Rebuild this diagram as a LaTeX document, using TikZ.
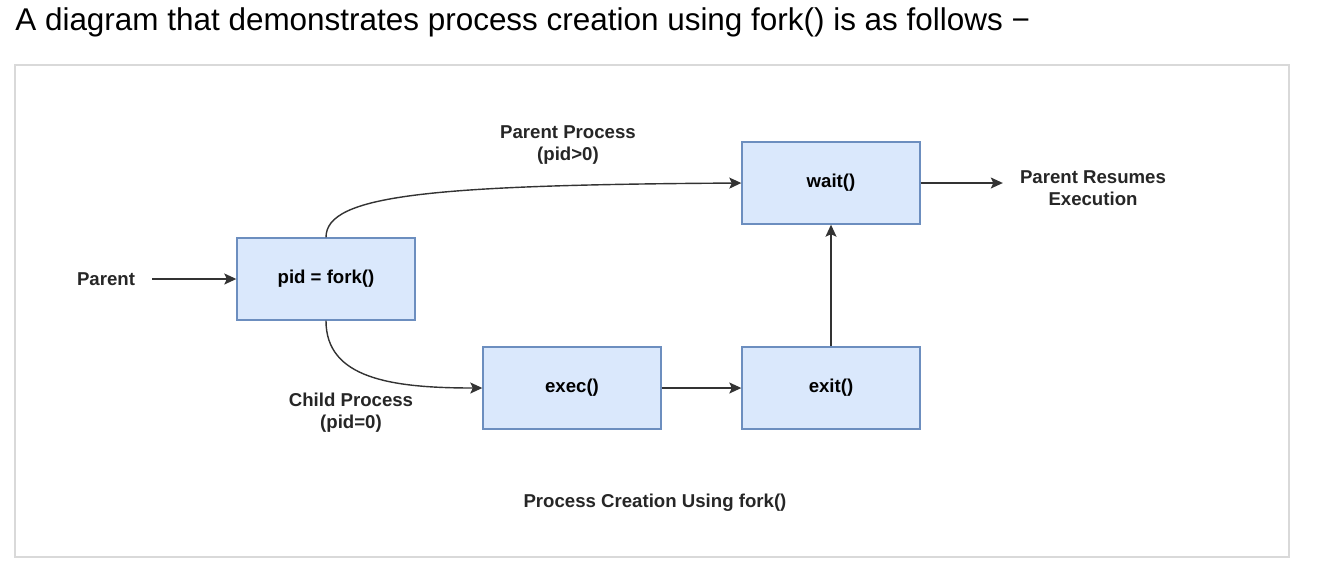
\documentclass[tikz,border=0pt]{standalone}
\usepackage{fontspec}
\setmainfont{Liberation Sans}
\usetikzlibrary{arrows.meta,positioning}
\definecolor{boxfill}{HTML}{DAE8FC}
\definecolor{boxline}{HTML}{6C8EBF}
\definecolor{framegray}{HTML}{D9D9D9}
\newcommand{\lblfont}{\fontsize{10.6}{12.5}\selectfont\bfseries}
\tikzset{procbox/.style={draw=boxline,fill=boxfill,line width=0.8pt,minimum width=3.56cm,minimum height=1.64cm,inner sep=0pt,font=\lblfont},
  lbl/.style={align=center,font=\lblfont,text=black!85},
  arr/.style={-{Stealth[length=2.4mm,width=2.2mm,inset=0.5mm]},line width=0.8pt,draw=black!80}}

\begin{document}
\begin{tikzpicture}[x=0.02cm,y=-0.02cm]
\useasboundingbox (0,0) rectangle (1336,566);
\node[anchor=base west,font=\fontsize{17.9}{21}\selectfont,inner sep=0pt] (title) at (15,30) {A diagram that demonstrates process creation using fork() is as follows −};
\draw[framegray,line width=1.1pt] (15,65) rectangle (1289,557);
% boxes
\node[procbox] (fork) at (326,279) {pid = fork()};
\node[procbox] (wait) at (831,183) {wait()};
\node[procbox] (exec) at (572,388) {exec()};
\node[procbox] (exit) at (831,388) {exit()};
% labels
\node[lbl] (parent) at (106,279) {Parent};
\node[lbl] (resume) at (1093,188) {Parent Resumes\\Execution};
\node[lbl] (ptag) at (568,145) {Parent Process\\(pid>0)};
\node[lbl] (ctag) at (351,413) {Child Process\\(pid=0)};
\node[lbl] (caption) at (655,503) {Process Creation Using fork()};
% arrows
\draw[arr,shorten <=2.2mm] (parent.east) -- (fork.west);
\draw[arr] (fork.north) .. controls (326,195) and (430,185) .. (wait.west);
\draw[arr] (fork.south) .. controls (326,378) and (390,388) .. (exec.west);
\draw[arr] (exec) -- (exit);
\draw[arr] (exit) -- (wait);
\draw[arr,shorten >=2.2mm] (wait.east) -- (wait.east -| resume.west);
\end{tikzpicture}
\end{document}
